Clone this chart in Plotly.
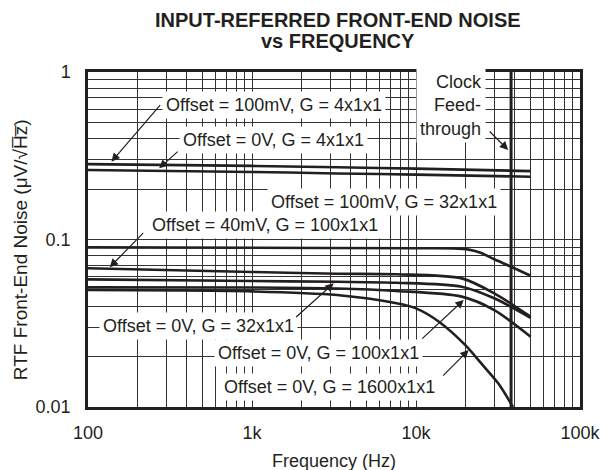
import math
import plotly.graph_objects as go

# ---- data ----
freq_4x = [100, 1000, 3300, 10000, 50000]
noise_100mV_g4 = [0.282, 0.275, 0.270, 0.265, 0.256]
noise_0V_g4 = [0.260, 0.253, 0.248, 0.244, 0.237]

freq_100mV_g32 = [100, 1000, 10000, 17000, 21000, 25000, 30000, 38000, 50000]
noise_100mV_g32 = [0.0898, 0.0892, 0.0886, 0.0884, 0.0870, 0.0830, 0.0762, 0.0688, 0.0608]

freq_mid = [100, 1000, 3300, 7600, 19000, 30000, 50000]
noise_40mV_g100 = [0.0673, 0.0640, 0.0625, 0.0620, 0.0586, 0.0477, 0.0346]
noise_0V_g32 = [0.0578, 0.0565, 0.0559, 0.0552, 0.0523, 0.0446, 0.0341]
noise_0V_g100 = [0.0518, 0.0517, 0.0510, 0.0493, 0.0456, 0.0379, 0.0263]

freq_0V_g1600 = [100, 1000, 3300, 7600, 10000, 13800, 20000, 25000, 31800, 39000]
noise_0V_g1600 = [0.0499, 0.0490, 0.0466, 0.0416, 0.0388, 0.0323, 0.0234, 0.0182, 0.0138, 0.0100]

clock_freq = [38000, 38000]
clock_span = [0.01, 1.0]

x_tickvals = [100, 1000, 10000, 100000]
x_ticktext = ["100", "1k", "10k", "100k"]
y_tickvals = [0.01, 0.1, 1]
y_ticktext = ["0.01", "0.1", "1"]

FONT = "Liberation Sans, Arial, Helvetica, sans-serif"
INK = "#231f20"

fig = go.Figure()

def add_curve(fx, fy, width=2.6):
    fig.add_trace(go.Scatter(x=fx, y=fy, mode="lines",
                             line=dict(color=INK, width=width, shape="spline", smoothing=0.8),
                             showlegend=False, hoverinfo="skip"))

add_curve(freq_4x, noise_100mV_g4)
add_curve(freq_4x, noise_0V_g4)
add_curve(freq_100mV_g32, noise_100mV_g32)
add_curve(freq_mid, noise_40mV_g100)
add_curve(freq_mid, noise_0V_g32)
add_curve(freq_mid, noise_0V_g100)
add_curve(freq_0V_g1600, noise_0V_g1600)
fig.add_trace(go.Scatter(x=clock_freq, y=clock_span, mode="lines",
                         line=dict(color=INK, width=3), showlegend=False, hoverinfo="skip"))

ann = []

def label(text, x, y, xanchor="left", align="left"):
    ann.append(dict(text=text, x=x, y=y, xref="x", yref="y", xanchor=xanchor, yanchor="middle",
                    align=align, showarrow=False, bgcolor="white", borderpad=3,
                    font=dict(family=FONT, size=18, color=INK)))

def arrow(x, y, ax, ay):
    ann.append(dict(text="", x=x, y=y, xref="x", yref="y", ax=ax, ay=ay, showarrow=True,
                    arrowhead=2, arrowsize=1.4, arrowwidth=1.2, arrowcolor=INK, standoff=0))

label("Offset = 100mV, G = 4x1x1", 2.452, -0.197)
label("Offset = 0V, G = 4x1x1", 2.554, -0.406)
label("Clock<br>Feed-<br>through", 4.428, -0.20, xanchor="right", align="right")
label("Offset = 100mV, G = 32x1x1", 3.090, -0.774)
label("Offset = 40mV, G = 100x1x1", 2.367, -0.913)
label("Offset = 0V, G = 32x1x1", 2.066, -1.516)
label("Offset = 0V, G = 100x1x1", 2.771, -1.679)
label("Offset = 0V, G = 1600x1x1", 2.807, -1.882)

arrow(2.1428, -0.5355, 50, -58)
arrow(2.4337, -0.575, 20, -18)
arrow(4.562, -0.4657, -20, -20)
arrow(2.1325, -1.166, 35, -36)
arrow(3.498, -1.2615, -39, 35)
arrow(4.291, -1.361, -43, 40)
arrow(4.321, -1.660, -27, 27)

# titles
ann.append(dict(text="<b>INPUT-REFERRED FRONT-END NOISE</b>", x=0.509, y=1.155, xref="paper", yref="paper",
                xanchor="center", yanchor="middle", showarrow=False,
                font=dict(family=FONT, size=20, color=INK)))
ann.append(dict(text="<b>vs FREQUENCY</b>", x=0.509, y=1.0925, xref="paper", yref="paper",
                xanchor="center", yanchor="middle", showarrow=False,
                font=dict(family=FONT, size=20, color=INK)))
ann.append(dict(text="Frequency (Hz)", x=0.5, y=-0.161, xref="paper", yref="paper",
                xanchor="center", yanchor="middle", showarrow=False,
                font=dict(family=FONT, size=18, color=INK)))
ann.append(dict(text="RTF Front-End Noise (\u03bcV/\u221aH\u0305z\u0305)", x=-0.137, y=0.47, xref="paper", yref="paper",
                xanchor="center", yanchor="middle", textangle=-90, showarrow=False,
                font=dict(family=FONT, size=19, color=INK)))

grid = "#333333"
fig.update_layout(
    width=605, height=462,
    margin=dict(l=80, r=28, t=64, b=63),
    paper_bgcolor="white", plot_bgcolor="white",
    annotations=ann,
    xaxis=dict(type="log", range=[2, 5], tickvals=x_tickvals, ticktext=x_ticktext,
               showgrid=True, gridcolor=grid, gridwidth=1,
               minor=dict(dtick="D1", showgrid=True, gridcolor=grid, gridwidth=1),
               showline=True, linecolor=INK, linewidth=2.5, mirror=True,
               ticks="", ticklabelstandoff=8, zeroline=False,
               tickfont=dict(family=FONT, size=18, color=INK)),
    yaxis=dict(type="log", range=[-2, 0], tickvals=y_tickvals, ticktext=y_ticktext,
               showgrid=True, gridcolor=grid, gridwidth=1,
               minor=dict(dtick="D1", showgrid=True, gridcolor=grid, gridwidth=1),
               showline=True, linecolor=INK, linewidth=2.5, mirror=True,
               ticks="", ticklabelstandoff=11, zeroline=False,
               tickfont=dict(family=FONT, size=18, color=INK)),
)

fig.write_html("out.html")
